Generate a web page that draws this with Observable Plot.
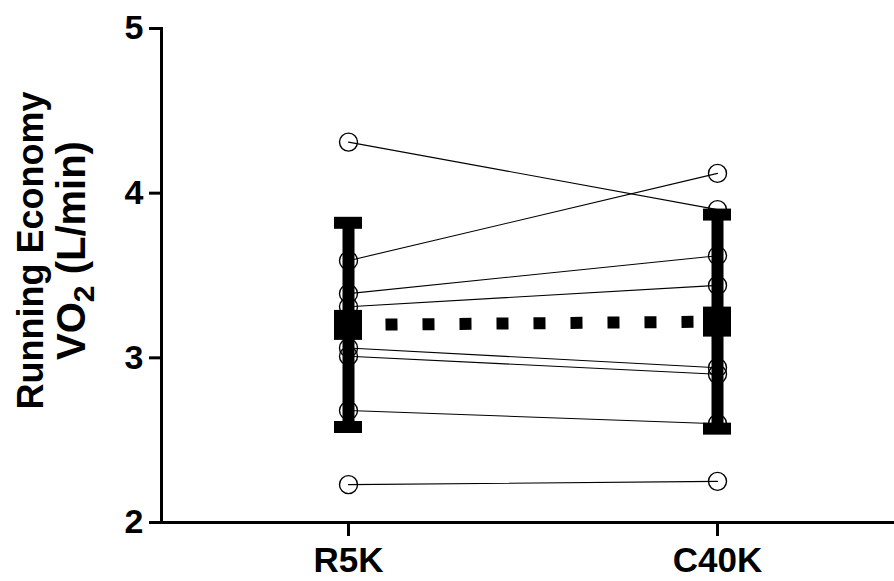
<!DOCTYPE html>
<html>
<head>
<meta charset="utf-8">
<script src="https://cdn.jsdelivr.net/npm/d3@7"></script>
<script src="https://cdn.jsdelivr.net/npm/@observablehq/plot@0.6"></script>
<style>
  html, body { margin: 0; padding: 0; background: #fff; }
  svg { display: block; }
</style>
</head>
<body>
<div id="chart"></div>
<script>
const conditions = ["R5K", "C40K"];
const r5k  = [4.31, 3.59, 3.39, 3.31, 3.06, 3.01, 2.68, 2.23];
const c40k = [3.90, 4.12, 3.62, 3.44, 2.94, 2.90, 2.60, 2.25];
const means = [3.20, 3.22];
const sds = [0.62, 0.65];
const yTicks = [2, 3, 4, 5];
const titleLine1 = "Running Economy";
const titleLine2 = "VO2 (L/min)";

const points = [];
r5k.forEach((v, i) => points.push({subject: i, cond: "R5K", value: v}));
c40k.forEach((v, i) => points.push({subject: i, cond: "C40K", value: v}));
const summary = conditions.map((c, i) => ({cond: c, mean: means[i], lo: means[i] - sds[i], hi: means[i] + sds[i]}));

const font = "'Liberation Sans', Arial, Helvetica, sans-serif";

const chart = Plot.plot({
  width: 894,
  height: 581,
  marginLeft: 161,
  marginRight: 0,
  marginTop: 28,
  marginBottom: 59,
  style: {fontFamily: font, background: "#fff", color: "#000", overflow: "visible"},
  x: {type: "band", domain: conditions, range: [333, 731], paddingInner: 1 - 28 / 370, paddingOuter: 0, align: 0.5},
  y: {domain: [2, 5], range: [522, 28]},
  marks: [
    Plot.line(points, {x: "cond", y: "value", z: "subject", stroke: "#000", strokeWidth: 1.1}),
    Plot.line(summary, {x: "cond", y: "mean", stroke: "#000", strokeWidth: 12, strokeDasharray: "12,25", strokeLinecap: "butt"}),
    Plot.ruleX(summary, {x: "cond", y1: "lo", y2: "hi", stroke: "#000", strokeWidth: 12}),
    Plot.tickY(summary, {x: "cond", y: "hi", stroke: "#000", strokeWidth: 12}),
    Plot.tickY(summary, {x: "cond", y: "lo", stroke: "#000", strokeWidth: 12}),
    Plot.tickY(summary, {x: "cond", y: "mean", stroke: "#000", strokeWidth: 30}),
    Plot.dot(points, {x: "cond", y: "value", r: 9, stroke: "#000", fill: "none", strokeWidth: 1.4}),
    Plot.frame({anchor: "left", stroke: "#000", strokeWidth: 3}),
    Plot.frame({anchor: "bottom", stroke: "#000", strokeWidth: 3}),
    Plot.axisY({ticks: yTicks, tickFormat: d3.format("d"), tickSize: 12, tickPadding: 6, strokeWidth: 3, fontSize: 34, fontWeight: "bold", label: null}),
    Plot.axisX({tickSize: 14, tickPadding: 11, strokeWidth: 3, fontSize: 35, fontWeight: "bold", label: null}),
    Plot.text([titleLine1], {frameAnchor: "left", text: d => d, rotate: -90, dx: -130, dy: -25, fontSize: 36, fontWeight: "bold", lineAnchor: "middle", textAnchor: "middle"}),
    Plot.text([titleLine2], {frameAnchor: "left", text: d => d, rotate: -90, dx: -89, dy: -25, fontSize: 40, fontWeight: "bold", lineAnchor: "middle", textAnchor: "middle", className: "title2"})
  ]
});
document.getElementById("chart").appendChild(chart);

// render the "2" of VO2 as a subscript
d3.select(chart).selectAll("text").each(function () {
  if (this.textContent === titleLine2) {
    const t = d3.select(this);
    t.text(null);
    t.append("tspan").text("VO");
    t.append("tspan").attr("font-size", "30").attr("dy", "9").text("2");
    t.append("tspan").attr("dy", "-9").text(" (L/min)");
  }
});
</script>
</body>
</html>
